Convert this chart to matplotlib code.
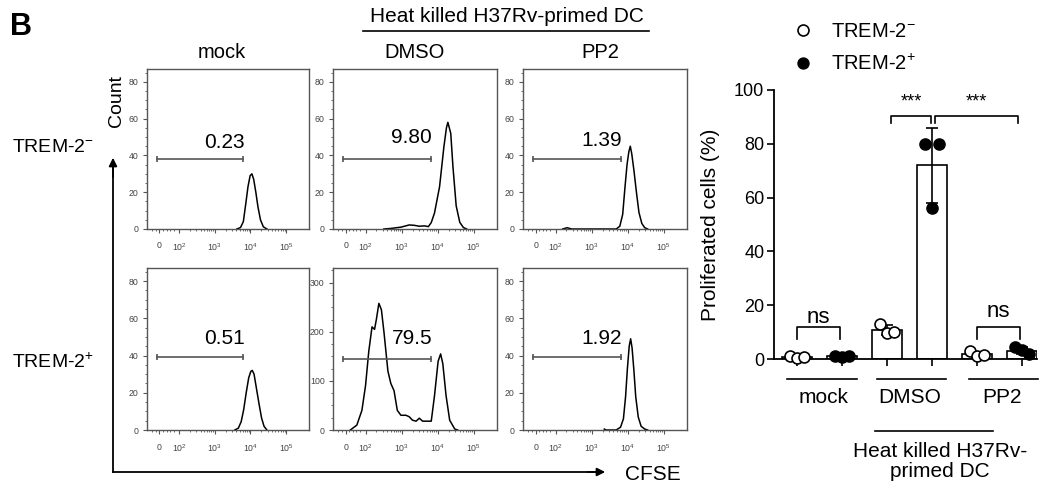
import numpy as np
import matplotlib
matplotlib.use("Agg")
import matplotlib.pyplot as plt
from matplotlib.lines import Line2D
from matplotlib import ticker

plt.rcParams['font.family'] = ['Liberation Sans', 'DejaVu Sans']
plt.rcParams['mathtext.fontset'] = 'custom'
plt.rcParams['mathtext.rm'] = 'Liberation Sans'
plt.rcParams['mathtext.it'] = 'Liberation Sans:italic'
plt.rcParams['mathtext.bf'] = 'Liberation Sans:bold'

W, H = 1039, 488

# ---------------- flow histograms (x = CFSE in decades, y = count) ----------------
conditions = ["mock", "DMSO", "PP2"]
row_labels = ["TREM-2$^{-}$", "TREM-2$^{+}$"]

neg_mock_x = [3.62, 3.72, 3.80, 3.87, 3.93, 3.99, 4.04, 4.09, 4.15, 4.21, 4.28, 4.36, 4.46]
neg_mock_y = [0, 0.8, 4, 14, 23, 29, 30, 27, 20, 12, 5, 1.2, 0]

neg_dmso_x = [2.51, 2.70, 2.98, 3.21, 3.35, 3.49, 3.63, 3.74, 3.82, 3.91, 4.05, 4.17, 4.24,
              4.28, 4.36, 4.42, 4.51, 4.61, 4.71, 4.80]
neg_dmso_y = [0, 0.3, 1.0, 2.2, 2.0, 1.5, 1.7, 1.3, 3.5, 8.7, 23, 44.7, 55,
              58, 52, 34, 12.6, 3.6, 0.8, 0]

neg_pp2_x = [2.20, 2.32, 2.45, 3.68, 3.78, 3.86, 3.92, 3.98, 4.03, 4.07, 4.11, 4.17, 4.24,
             4.31, 4.39, 4.47, 4.55]
neg_pp2_y = [0, 0.7, 0, 0, 1.5, 8, 22, 35, 42, 45, 41, 32, 20, 9, 3, 0.7, 0]

pos_mock_x = [3.56, 3.66, 3.74, 3.81, 3.88, 3.95, 4.01, 4.05, 4.10, 4.17, 4.24, 4.31, 4.38, 4.46]
pos_mock_y = [0, 1, 4.5, 11, 20, 28, 31.5, 32, 30, 22, 14, 6.5, 2, 0]

pos_dmso_x = [1.58, 1.76, 1.90, 2.00, 2.09, 2.18, 2.25, 2.30, 2.37, 2.44, 2.51, 2.62, 2.70,
              2.79, 2.88, 2.98, 3.12, 3.21, 3.30, 3.40, 3.49, 3.58, 3.82, 3.91, 4.01,
              4.08, 4.14, 4.23, 4.33, 4.47, 4.55]
pos_dmso_y = [0, 10, 40, 90, 160, 210, 205, 225, 258, 245, 200, 120, 95,
              80, 40, 30, 30, 27, 20, 18, 24, 18, 18, 70, 140,
              155, 135, 70, 20, 2, 0]

pos_pp2_x = [3.35, 3.40, 3.68, 3.80, 3.88, 3.94, 3.99, 4.04, 4.08, 4.12, 4.17, 4.22, 4.29,
             4.37, 4.47, 4.55]
pos_pp2_y = [0.5, 0, 0, 1.5, 6, 18, 33, 45, 49, 44, 32, 18, 7, 2, 0.5, 0]

curves = [[(neg_mock_x, neg_mock_y), (neg_dmso_x, neg_dmso_y), (neg_pp2_x, neg_pp2_y)],
          [(pos_mock_x, pos_mock_y), (pos_dmso_x, pos_dmso_y), (pos_pp2_x, pos_pp2_y)]]

gate_text = [["0.23", "9.80", "1.39"], ["0.51", "79.5", "1.92"]]
gate_lo, gate_hi = 1.37, 3.80
gate_y = [[38, 38, 38], [39, 145, 39]]
gate_text_y = [[47, 49.5, 48], [49, 187, 49]]
y_max = [[87, 87, 87], [87, 330, 87]]

# ---------------- bar chart: % proliferated cells ----------------
bar_groups = ["mock", "DMSO", "PP2"]
trem_neg = [[1.0, 0.2, 0.9], [13.0, 9.5, 10.0], [2.8, 1.0, 1.6]]
trem_pos = [[1.2, 0.8, 1.0], [80.0, 56.0, 80.0], [4.3, 3.2, 1.8]]


def px_axes(fig, l, t, r, b):
    return fig.add_axes([l / W, 1 - b / H, (r - l) / W, (b - t) / H])


def ftext(fig, x, y, s, **kw):
    return fig.text(x / W, 1 - y / H, s, **kw)


fig = plt.figure(figsize=(W / 100, H / 100), dpi=100)

col_px = [(147, 309), (333, 497), (523, 687)]
row_px = [(69, 229), (268, 430)]
edge = '#555555'

for r in range(2):
    for c in range(3):
        ax = px_axes(fig, col_px[c][0], row_px[r][0], col_px[c][1], row_px[r][1])
        xs, ys = curves[r][c]
        ax.plot(xs, ys, color='black', lw=1.1)
        ax.plot([gate_lo, gate_hi], [gate_y[r][c]] * 2, color='#555555', lw=1.2,
                marker='|', markersize=5, markeredgewidth=1.2)
        ax.text(3.28, gate_text_y[r][c], gate_text[r][c], ha='center', va='center',
                fontsize=15)
        ax.set_xlim(1.10, 5.64)
        ax.set_ylim(0, y_max[r][c])
        ax.set_xticks([1.45, 2, 3, 4, 5])
        ax.set_xticklabels(['0', '$10^{2}$', '$10^{3}$', '$10^{4}$', '$10^{5}$'])
        minor = [np.log10(k * 10.0 ** d) for d in (2, 3, 4) for k in range(2, 10)]
        ax.set_xticks(minor + [1.25, 1.35, 1.55, 1.65, 1.75, 1.85], minor=True)
        if y_max[r][c] > 100:
            ax.yaxis.set_major_locator(ticker.MultipleLocator(100))
            ax.yaxis.set_minor_locator(ticker.MultipleLocator(25))
        else:
            ax.yaxis.set_major_locator(ticker.MultipleLocator(20))
            ax.yaxis.set_minor_locator(ticker.MultipleLocator(5))
        ax.tick_params(which='major', length=3, width=0.8, color=edge,
                       labelsize=6.3, labelcolor='#444444')
        ax.tick_params(which='minor', length=1.5, width=0.6, color=edge)
        ax.tick_params(axis='x', pad=6)
        ax.tick_params(axis='y', pad=3)
        for sp in ax.spines.values():
            sp.set_color(edge)
            sp.set_linewidth(1.0)

# labels around the histogram grid
ftext(fig, 10, 27, 'B', fontsize=22, fontweight='bold', va='center', ha='left')
ftext(fig, 507, 17, 'Heat killed H37Rv-primed DC', fontsize=15, ha='center', va='center')
fig.add_artist(Line2D([363 / W, 649 / W], [1 - 31 / H] * 2, color='black', lw=1.2))
for name, x in zip(conditions, [222, 415, 600]):
    ftext(fig, x, 53, name, fontsize=14.5, ha='center', va='center')
ftext(fig, 12, 147, row_labels[0], fontsize=14, ha='left', va='center')
ftext(fig, 12, 362, row_labels[1], fontsize=14, ha='left', va='center')
ftext(fig, 117, 101, 'Count', fontsize=14, rotation=90, ha='center', va='center')
ftext(fig, 625, 474, 'CFSE', fontsize=15, ha='left', va='center')
fig.add_artist(Line2D([113 / W, 113 / W], [1 - 472 / H, 1 - 160 / H], color='black', lw=1.3))
fig.add_artist(Line2D([113 / W, 600 / W], [1 - 472 / H] * 2, color='black', lw=1.3))
ax0 = fig.axes[0]
ax0.annotate('', xy=(113, H - 155), xytext=(113, H - 180), xycoords='figure pixels',
             textcoords='figure pixels',
             arrowprops=dict(arrowstyle='-|>', color='black', lw=1.3, mutation_scale=12))
ax0.annotate('', xy=(608, H - 472), xytext=(585, H - 472), xycoords='figure pixels',
             textcoords='figure pixels',
             arrowprops=dict(arrowstyle='-|>', color='black', lw=1.3, mutation_scale=12))

# ---------------- bar chart ----------------
bx = px_axes(fig, 774, 90, 1037, 359)
jitter = np.array([-0.16, 0.0, 0.15])
pos = np.arange(6)
for i in range(3):
    for j, (vals, face) in enumerate([(trem_neg[i], 'white'), (trem_pos[i], 'black')]):
        xpos = pos[2 * i + j]
        v = np.array(vals)
        bx.bar(xpos, v.mean(), width=0.66, color='white', edgecolor='black', lw=1.2, zorder=2)
        bx.errorbar(xpos, v.mean(), yerr=v.std(ddof=1), color='black', lw=1.2,
                    capsize=4.5, capthick=1.2, zorder=3)
        bx.scatter(xpos + jitter, v, s=62, facecolor=face, edgecolor='black', lw=1.2,
                   zorder=4, clip_on=False)

bx.set_xlim(-0.51, 5.33)
bx.set_ylim(0, 100)
bx.set_yticks([0, 20, 40, 60, 80, 100])
bx.set_xticks(pos)
bx.set_xticklabels([])
bx.tick_params(axis='y', length=5, width=1.2, labelsize=13, pad=2)
bx.tick_params(axis='x', length=5, width=1.2)
for s in ['top', 'right']:
    bx.spines[s].set_visible(False)
for s in ['left', 'bottom']:
    bx.spines[s].set_linewidth(1.3)
bx.set_ylabel('Proliferated cells (%)', fontsize=15)
bx.yaxis.set_label_coords(-0.205, 0.5)

# significance brackets
def bracket(x0, x1, top, leg, txt, ty, fs):
    bx.plot([x0, x0, x1, x1], [leg, top, top, leg], color='black', lw=1.2, clip_on=False)
    bx.text((x0 + x1) / 2, ty, txt, ha='center', va='center', fontsize=fs)

bracket(2.08, 2.98, 90.3, 87.7, '***', 95.5, 13)
bracket(3.07, 4.91, 90.3, 87.7, '***', 95.5, 13)
bracket(0.0, 0.95, 12, 7.5, 'ns', 15.5, 16)
bracket(4.0, 4.95, 12, 7.5, 'ns', 17.5, 16)

# group labels under the axis
for name, cx, lx in zip(bar_groups, [0.58, 2.51, 4.56], [0.555, 2.545, 4.58]):
    bx.plot([lx - 0.77, lx + 0.77], [-7.4, -7.4], color='black', lw=1.2, clip_on=False)
    bx.text(cx, -14.3, name, ha='center', va='center', fontsize=15)
bx.plot([1.73, 4.36], [-26.8, -26.8], color='black', lw=1.2, clip_on=False)
bx.text(3.18, -38.2, 'Heat killed H37Rv-\nprimed DC', ha='center', va='center',
        fontsize=15, linespacing=1.05)

handles = [Line2D([], [], ls='', marker='o', markersize=7.9, markerfacecolor='white',
                  markeredgecolor='black', markeredgewidth=1.2),
           Line2D([], [], ls='', marker='o', markersize=7.9, markerfacecolor='black',
                  markeredgecolor='black')]
bx.legend(handles, row_labels, loc='upper left', bbox_to_anchor=(793 / W, 1 - 22 / H),
          bbox_transform=fig.transFigure, frameon=False, fontsize=14.5, handlelength=1.0,
          handletextpad=0.9, labelspacing=0.62, borderpad=0, borderaxespad=0)

fig.savefig('out.png', dpi=100)
